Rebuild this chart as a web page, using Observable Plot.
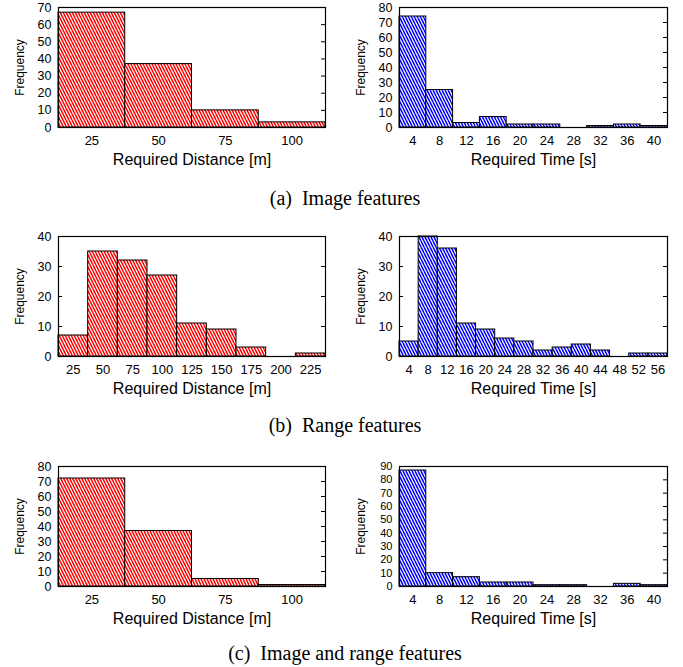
<!DOCTYPE html>
<html>
<head>
<meta charset="utf-8">
<script src="https://cdn.jsdelivr.net/npm/d3@7"></script>
<script src="https://cdn.jsdelivr.net/npm/@observablehq/plot@0.6"></script>
<style>
  html, body { margin: 0; padding: 0; background: #fff; }
  #fig { position: relative; width: 683px; height: 667px; overflow: hidden; background: #fff; }
  #fig svg.plot { position: absolute; }
  .cap { position: absolute; width: 400px; text-align: center; font-family: "Liberation Serif", "Times New Roman", serif;
         font-size: 20px; line-height: 20px; white-space: pre; color: #000; }
</style>
</head>
<body>
<svg width="0" height="0" style="position:absolute">
  <defs>
    <pattern id="hatchRed" patternUnits="userSpaceOnUse" width="3" height="6">
      <rect width="3" height="6" fill="#ffffff"/>
      <path d="M-3,0L0,6M0,0L3,6M3,0L6,6" stroke="#ff0000" stroke-width="1.5"/>
    </pattern>
    <pattern id="hatchBlue" patternUnits="userSpaceOnUse" width="3" height="6">
      <rect width="3" height="6" fill="#ffffff"/>
      <path d="M-3,0L0,6M0,0L3,6M3,0L6,6" stroke="#0000ff" stroke-width="1.5"/>
    </pattern>
  </defs>
</svg>
<div id="fig"></div>
<script>
// ---- Data ----
const distCenters4 = [25, 50, 75, 100];
const distCenters9 = [25, 50, 75, 100, 125, 150, 175, 200, 225];
const timeCenters10 = [4, 8, 12, 16, 20, 24, 28, 32, 36, 40];
const timeCenters14 = [4, 8, 12, 16, 20, 24, 28, 32, 36, 40, 44, 48, 52, 56];

const imageDistCounts = [67, 37, 10, 3];
const imageTimeCounts = [74, 25, 3, 7, 2, 2, 0, 1, 2, 1];
const rangeDistCounts = [7, 35, 32, 27, 11, 9, 3, 0, 1];
const rangeTimeCounts = [5, 40, 36, 11, 9, 6, 5, 2, 3, 4, 2, 0, 1, 1];
const bothDistCounts = [72, 37, 5, 1];
const bothTimeCounts = [87, 10, 7, 3, 3, 1, 1, 0, 2, 1];

const distBinWidth = 25;
const timeBinWidth = 4;

const yTicks70 = [0, 10, 20, 30, 40, 50, 60, 70];
const yTicks80 = [0, 10, 20, 30, 40, 50, 60, 70, 80];
const yTicks40 = [0, 10, 20, 30, 40];
const yTicks90 = [0, 10, 20, 30, 40, 50, 60, 70, 80, 90];

const xLabelDist = "Required Distance [m]";
const xLabelTime = "Required Time [s]";
const yLabel = "Frequency";
const captions = ["(a)  Image features", "(b)  Range features", "(c)  Image and range features"];

// ---- Drawing ----
const fig = document.getElementById("fig");

function table(centers, counts, bw) {
  return centers.map((c, i) => ({x1: c - bw / 2, x2: c + bw / 2, n: counts[i]}));
}

function panel({centers, counts, bw, yTicks, xLabel, fill, left, top, width, ml, mr, yFont = 12.5}) {
  const fw = width - ml - mr;
  const svg = Plot.plot({
    width, height: 172,
    marginTop: 7, marginBottom: 45, marginLeft: ml, marginRight: mr,
    x: {domain: [centers[0] - bw / 2, centers[centers.length - 1] + bw / 2]},
    y: {domain: [0, yTicks[yTicks.length - 1]]},
    style: {fontFamily: '"Liberation Sans", Arial, Helvetica, sans-serif', fontSize: "13px", color: "#000", background: "#fff", overflow: "visible"},
    marks: [
      Plot.tickY(yTicks, {y: d => d, stroke: "#000", insetRight: fw - 4}),
      Plot.tickY(yTicks, {y: d => d, stroke: "#000", insetLeft: fw - 4}),
      Plot.rect(table(centers, counts, bw), {x1: "x1", x2: "x2", y1: d => 0, y2: "n", fill, stroke: "#000", strokeWidth: 1}),
      Plot.frame({stroke: "#000", strokeWidth: 1.2}),
      Plot.axisX(centers, {tickSize: 0, tickPadding: 8, label: null}),
      Plot.axisY(yTicks, {tickSize: 0, tickPadding: 7, label: null, fontSize: yFont}),
      Plot.text([xLabel], {frameAnchor: "bottom", dy: 32, textAnchor: "middle", lineAnchor: "middle", fontSize: 16}),
      Plot.text([yLabel], {frameAnchor: "left", dx: -38, rotate: -90, textAnchor: "middle", lineAnchor: "middle", fontSize: 12})
    ]
  });
  svg.classList.add("plot");
  svg.style.left = left + "px";
  svg.style.top = top + "px";
  fig.appendChild(svg);
}

const rowTops = [0, 229, 459];
const L = {left: 0, width: 340, ml: 58, mr: 15};
const R = {left: 340, width: 343, ml: 59, mr: 16};

panel({...L, top: rowTops[0], centers: distCenters4, counts: imageDistCounts, bw: distBinWidth, yTicks: yTicks70, xLabel: xLabelDist, fill: "url(#hatchRed)"});
panel({...R, top: rowTops[0], centers: timeCenters10, counts: imageTimeCounts, bw: timeBinWidth, yTicks: yTicks80, xLabel: xLabelTime, fill: "url(#hatchBlue)"});
panel({...L, top: rowTops[1], centers: distCenters9, counts: rangeDistCounts, bw: distBinWidth, yTicks: yTicks40, xLabel: xLabelDist, fill: "url(#hatchRed)"});
panel({...R, top: rowTops[1], centers: timeCenters14, counts: rangeTimeCounts, bw: timeBinWidth, yTicks: yTicks40, xLabel: xLabelTime, fill: "url(#hatchBlue)"});
panel({...L, top: rowTops[2], centers: distCenters4, counts: bothDistCounts, bw: distBinWidth, yTicks: yTicks80, xLabel: xLabelDist, fill: "url(#hatchRed)"});
panel({...R, top: rowTops[2], centers: timeCenters10, counts: bothTimeCounts, bw: timeBinWidth, yTicks: yTicks90, xLabel: xLabelTime, fill: "url(#hatchBlue)", yFont: 11});

const capBaselines = [205, 432, 660];
captions.forEach((t, i) => {
  const d = document.createElement("div");
  d.className = "cap";
  d.textContent = t;
  d.style.left = (345 - 200) + "px";
  d.style.top = (capBaselines[i] - 16.75) + "px";
  fig.appendChild(d);
});
</script>
</body>
</html>
